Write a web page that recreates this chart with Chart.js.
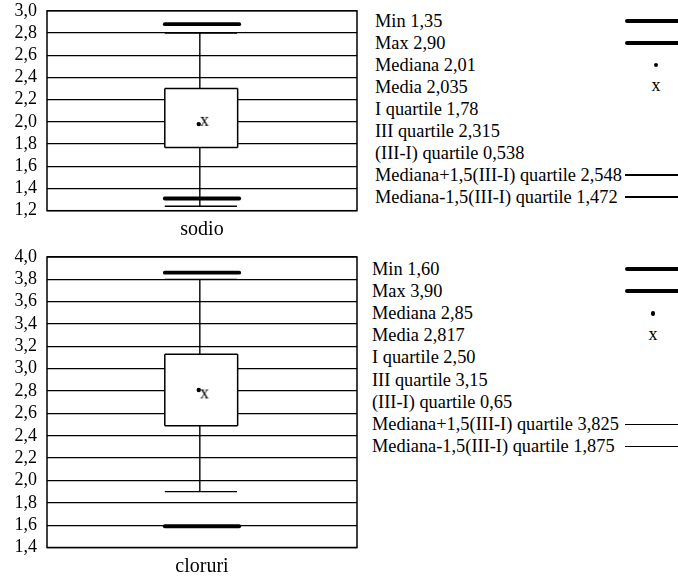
<!DOCTYPE html>
<html><head><meta charset="utf-8">
<script src="https://cdn.jsdelivr.net/npm/chart.js@4.4.1/dist/chart.umd.min.js"></script>
<style>
html,body{margin:0;padding:0;background:#fff;overflow:hidden;width:678px;height:579px;}
#wrap{position:relative;width:678px;height:579px;}
canvas{position:absolute;left:0;}
.lg{position:absolute;font:18px "Liberation Serif","Times New Roman",serif;color:#000;white-space:nowrap;line-height:22px;height:22px;transform-origin:0 50%;}
.ln{position:absolute;background:#000;}
.dot{position:absolute;background:#000;border-radius:50%;}
</style></head><body>
<div id="wrap">
<canvas id="c0" width="364" height="245" style="top:0"></canvas>
<canvas id="c1" width="364" height="333" style="top:246px"></canvas>
</div>
<script>
// ---- data ----
const categories = ['sodio', 'cloruri'];
const axisMin = [1.2, 1.4];
const axisMax = [3.0, 4.0];
const tickLabels = [
  ['1,2','1,4','1,6','1,8','2,0','2,2','2,4','2,6','2,8','3,0'],
  ['1,4','1,6','1,8','2,0','2,2','2,4','2,6','2,8','3,0','3,2','3,4','3,6','3,8','4,0']
];
const minValues = [1.31, 1.59];
const maxValues = [2.88, 3.86];
const medianValues = [1.98, 2.81];
const meanValues = [2.00, 2.77];
const q1Values = [1.77, 2.49];
const q3Values = [2.30, 3.13];
const whiskerLow = [1.24, 1.90];
const whiskerHigh = [2.80, 3.80];
const legendLabels = ['Min', 'Max', 'Mediana', 'Media', 'I quartile', 'III quartile',
  '(III-I) quartile', 'Mediana+1,5(III-I) quartile', 'Mediana-1,5(III-I) quartile'];
const legendValues = [
  ['1,35', '2,90', '2,01', '2,035', '1,78', '2,315', '0,538', '2,548', '1,472'],
  ['1,60', '3,90', '2,85', '2,817', '2,50', '3,15', '0,65', '3,825', '1,875']
];
const legendSamples = ['thick', 'thick', 'dot', 'x', '', '', '', 'thin', 'thin'];

// ---- layout constants ----
const BOX_L = 0.38, BOX_R = 0.615, MID = 0.493, CAP_R = 0.613, BAR_L = 0.38, BAR_R = 0.62;
const MED_X = 0.4895, MEAN_X = 0.508;
const SERIF = "'Liberation Serif', 'Times New Roman', serif";
Chart.defaults.font.family = SERIF;
Chart.defaults.color = '#000';

const xImg = document.createElement('canvas');
xImg.width = 12; xImg.height = 16;
(function(){const c = xImg.getContext('2d'); c.font = '18px ' + SERIF; c.fillStyle = '#000';
  c.textAlign = 'center'; c.textBaseline = 'alphabetic'; c.fillText('x', 6, 12);})();

const framePlugin = {id: 'frame', afterDatasetsDraw(chart) {
  const {ctx, chartArea: a} = chart;
  ctx.save(); ctx.strokeStyle = '#000'; ctx.lineWidth = 1.5;
  ctx.strokeRect(a.left, a.top, a.right - a.left, a.bottom - a.top); ctx.restore();
}};

function seg(x0, y0, x1, y1, w, extra) {
  return Object.assign({data: [{x: x0, y: y0}, {x: x1, y: y1}], borderColor: '#000', borderWidth: w,
    pointRadius: 0, fill: false, tension: 0}, extra || {});
}

const panelGeom = [
  {top: 10, xHeight: 34.3, titlePad: 3.7},
  {top: 11, xHeight: 31.5, titlePad: 0.3}
];

function makePanel(p) {
  const g = panelGeom[p];
  const thick = {borderCapStyle: 'round'};
  const datasets = [
    {data: [{x: MEAN_X, y: meanValues[p]}], showLine: false, pointStyle: xImg, pointRadius: 6},
    {data: [{x: MED_X, y: medianValues[p]}], showLine: false, pointStyle: 'circle', pointRadius: 2.2,
      backgroundColor: '#000', borderWidth: 0},
    seg(BOX_L, q3Values[p], BOX_R, q3Values[p], 1.5, {fill: '+1', backgroundColor: '#fff'}),
    seg(BOX_L, q1Values[p], BOX_R, q1Values[p], 1.5),
    seg(BOX_L, q1Values[p], BOX_L, q3Values[p], 1.5),
    seg(BOX_R, q1Values[p], BOX_R, q3Values[p], 1.5),
    seg(MID, q3Values[p], MID, whiskerHigh[p], 1.4),
    seg(MID, whiskerLow[p], MID, q1Values[p], 1.4),
    seg(BOX_L, whiskerHigh[p], CAP_R, whiskerHigh[p], 1.4),
    seg(BOX_L, whiskerLow[p], CAP_R, whiskerLow[p], 1.4),
    seg(BAR_L, maxValues[p], BAR_R, maxValues[p], 3.8, thick),
    seg(BAR_L, minValues[p], BAR_R, minValues[p], 3.8, thick)
  ];
  new Chart(document.getElementById('c' + p), {
    type: 'line',
    data: {datasets},
    plugins: [framePlugin],
    options: {
      responsive: false, animation: false, devicePixelRatio: 1,
      layout: {padding: {top: g.top, right: 1, left: 0, bottom: 0}},
      plugins: {legend: {display: false}, tooltip: {enabled: false},
        filler: {propagate: false, drawTime: 'beforeDatasetsDraw'}},
      scales: {
        x: {type: 'linear', min: 0, max: 1, grid: {display: false}, border: {display: false},
          ticks: {display: false},
          title: {display: true, text: categories[p], font: {size: 20, family: SERIF}, color: '#000',
            padding: {top: 0, bottom: g.titlePad}},
          afterFit: s => { s.height = g.xHeight; }},
        y: {type: 'linear', min: axisMin[p], max: axisMax[p], border: {display: false},
          grid: {color: '#000', lineWidth: 1.3, drawTicks: true, tickLength: 10, tickColor: 'rgba(0,0,0,0)'},
          ticks: {stepSize: 0.2, autoSkip: false, padding: 0, font: {size: 18, family: SERIF}, color: '#000',
            callback: (v, i) => tickLabels[p][i]},
          afterFit: s => { s.width = 47; }}
      }
    }
  });
}
makePanel(0); makePanel(1);

// ---- legend tables ----
const legendGeom = [
  {textX: 375, row0: 21, step: 22, lineX: 625, symX: 656},
  {textX: 372, row0: 269, step: 22.2, lineX: 625, symX: 653}
];
const wrap = document.getElementById('wrap');
for (let p = 0; p < 2; p++) {
  const lg = legendGeom[p];
  legendLabels.forEach((lab, i) => {
    const cy = lg.row0 + i * lg.step;
    const d = document.createElement('div');
    d.className = 'lg'; d.style.left = lg.textX + 'px'; d.style.top = (cy - 11.5) + 'px';
    d.style.transform = 'scaleX(1.02)';
    d.textContent = lab + ' ' + legendValues[p][i];
    wrap.appendChild(d);
    const s = legendSamples[i];
    if (s === 'thick' || s === 'thin') {
      const h = s === 'thick' ? 3.6 : 1.4;
      const l = document.createElement('div'); l.className = 'ln';
      l.style.left = lg.lineX + 'px'; l.style.width = (678 - lg.lineX) + 'px';
      l.style.top = (cy - h / 2) + 'px'; l.style.height = h + 'px';
      if (s === 'thick') l.style.borderRadius = '2px 0 0 2px';
      wrap.appendChild(l);
    } else if (s === 'dot') {
      const o = document.createElement('div'); o.className = 'dot';
      o.style.left = (lg.symX - 2.2) + 'px'; o.style.top = (cy - 2.2) + 'px';
      o.style.width = '4.4px'; o.style.height = '4.4px';
      wrap.appendChild(o);
    } else if (s === 'x') {
      const o = document.createElement('div'); o.className = 'lg';
      o.style.left = (lg.symX - 10) + 'px'; o.style.width = '20px'; o.style.textAlign = 'center';
      o.style.top = (cy - 13) + 'px'; o.textContent = 'x';
      wrap.appendChild(o);
    }
  });
}
</script>
</body></html>
